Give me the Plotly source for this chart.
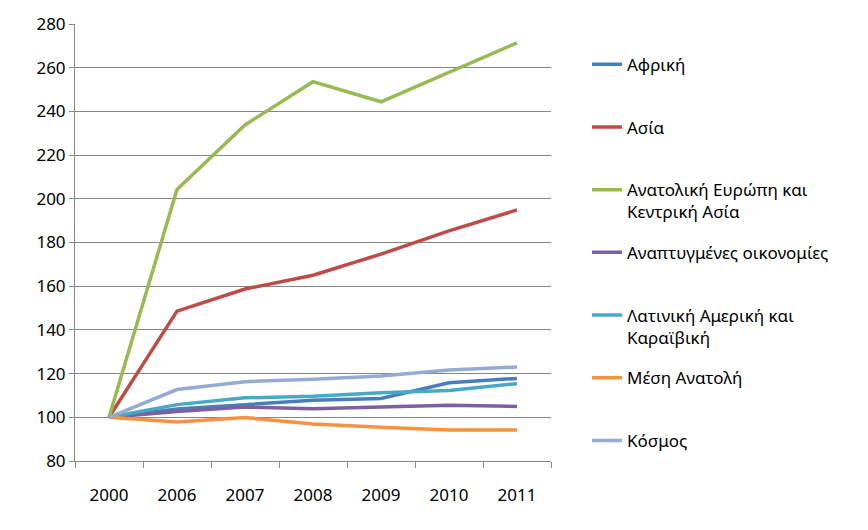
import plotly.graph_objects as go

years = ["2000", "2006", "2007", "2008", "2009", "2010", "2011"]

series_names = [
    "Αφρική",
    "Ασία",
    "Ανατολική Ευρώπη και<br>Κεντρική Ασία",
    "Αναπτυγμένες οικονομίες",
    "Λατινική Αμερική και<br>Καραϊβική",
    "Μέση Ανατολή",
    "Κόσμος",
]

africa = [100, 103.8, 105.8, 107.8, 108.6, 115.8, 117.8]
asia = [100, 148.6, 158.7, 165.0, 174.7, 185.3, 194.9]
east_europe_central_asia = [100, 204.3, 233.8, 253.6, 244.4, 257.7, 271.4]
developed = [100, 102.7, 104.7, 103.9, 104.7, 105.5, 105.0]
latin_america = [100, 105.8, 108.9, 109.6, 111.2, 112.3, 115.4]
middle_east = [100, 97.9, 99.9, 96.9, 95.5, 94.2, 94.2]
world = [100, 112.7, 116.3, 117.4, 118.9, 121.7, 123.0]

values = [africa, asia, east_europe_central_asia, developed, latin_america, middle_east, world]
colors = ["#4A7EBB", "#BE4B48", "#98B954", "#7D60A0", "#46AAC5", "#F69240", "#94ABD2"]

y_ticks = [80, 100, 120, 140, 160, 180, 200, 220, 240, 260, 280]

fig = go.Figure()
for i, (name, vals, col) in enumerate(zip(series_names, values, colors)):
    label = name if "<br>" in name else name + "<br> "
    fig.add_trace(go.Scatter(
        x=years, y=vals, mode="lines", name=label,
        line=dict(color=col, width=3.5),
        legendgroup=f"g{i}",
    ))

font_family = "Noto Sans, DejaVu Sans, sans-serif"
fig.update_layout(
    width=860, height=522,
    margin=dict(l=67, r=317, t=16, b=69, autoexpand=False),
    paper_bgcolor="white", plot_bgcolor="white",
    font=dict(family=font_family, size=17, color="#000000"),
    showlegend=True,
    legend=dict(
        x=1.0756, xanchor="left", y=0.948, yanchor="top",
        traceorder="grouped", tracegroupgap=15.5,
        valign="top", maxheight=1000,
        font=dict(family=font_family, size=17, color="#000000"),
        bgcolor="rgba(0,0,0,0)",
    ),
    xaxis=dict(
        type="category", range=[-0.5, 6.5],
        showline=True, linecolor="#868686", linewidth=1,
        ticks="outside", ticklen=6, tickcolor="#868686", tickson="boundaries",
        showgrid=False, zeroline=False,
        tickfont=dict(size=17), ticklabelstandoff=19,
    ),
    yaxis=dict(
        range=[80, 280], tickvals=y_ticks,
        showline=True, linecolor="#868686", linewidth=1,
        ticks="outside", ticklen=5, tickcolor="#868686",
        showgrid=True, gridcolor="#868686", gridwidth=1,
        zeroline=False, tickfont=dict(size=17),
    ),
)

fig.write_html("out.html")
